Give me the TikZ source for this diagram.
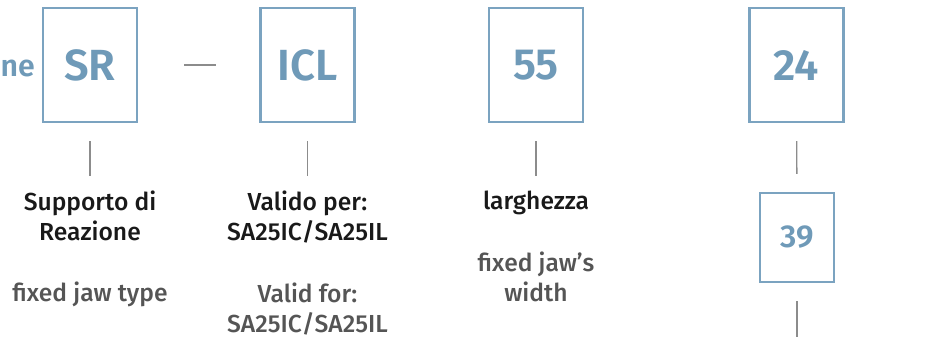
\documentclass[tikz,border=0pt]{standalone}
\usepackage{fontspec}
\setmainfont{Fira Sans}
\newfontfamily\medio{Fira Sans Medium}
\newfontfamily\grassetto{Fira Sans SemiBold}
\definecolor{azzurro}{HTML}{7BA3C0}
\definecolor{azzurrotesto}{HTML}{6F9AB8}
\definecolor{grigiotesto}{HTML}{555555}
\definecolor{grigiotratto}{HTML}{8C8C8C}
\tikzset{
  casella/.style={draw=azzurro, line width=0.6pt, minimum width=0.94cm, minimum height=1.14cm,
    inner sep=0pt, text=azzurrotesto, font=\grassetto\fontsize{12.4}{14}\selectfont},
  casellina/.style={casella, minimum width=0.74cm, minimum height=0.89cm,
    font=\grassetto\fontsize{9}{11}\selectfont},
  voce/.style={align=center, inner sep=0pt, anchor=base, text=black!90, font=\medio\fontsize{7}{8.8}\selectfont},
  traduzione/.style={voce, text=grigiotesto},
  tratto/.style={draw=grigiotratto, line width=0.4pt}
}
\begin{document}
\begin{tikzpicture}[x=0.01cm, y=-0.01cm]
\useasboundingbox (0,0) rectangle (929,340);

% riquadri del codice
\node[casella] (sr) at (90,65) {SR};
\node[casella] (icl) at (307.5,65) {ICL};
\node[casella] (larg) at (536,65) {55};
\node[casella] (ventiquattro) at (796.5,65) {24};
\node[casellina] (trentanove) at (797,237.5) {39};

% testo tagliato a sinistra
\node[anchor=base west, inner sep=0pt, text=azzurrotesto, font=\grassetto\fontsize{8.6}{10}\selectfont] (ne) at (0,77) {ne};

% descrizioni (ancora sulla base dell'ultima riga)
\node[voce] (srit) at (90,241) {Supporto di\\Reazione};
\node[traduzione] (sren) at (90,302) {fixed jaw type};
\node[voce] (iclit) at (307.5,241) {Valido per:\\SA25IC/SA25IL};
\node[traduzione] (iclen) at (307.5,333) {Valid for:\\SA25IC/SA25IL};
\node[voce] (largit) at (536,210) {larghezza};
\node[traduzione] (largen) at (536,302) {fixed jaw’s\\width};

% trattini
\draw[tratto, shorten <=0.46cm, shorten >=0.43cm] (sr) -- (icl);
\draw[tratto] ([yshift=-0.18cm]sr.south) -- ++(0,35);
\draw[tratto] ([yshift=-0.18cm]icl.south) -- ++(0,35);
\draw[tratto] ([yshift=-0.18cm]larg.south) -- ++(0,35);
\draw[tratto, shorten <=0.18cm, shorten >=0.18cm] (ventiquattro) -- (trentanove);
\draw[tratto] ([yshift=-0.18cm]trentanove.south) -- ++(0,36);

\end{tikzpicture}
\end{document}
